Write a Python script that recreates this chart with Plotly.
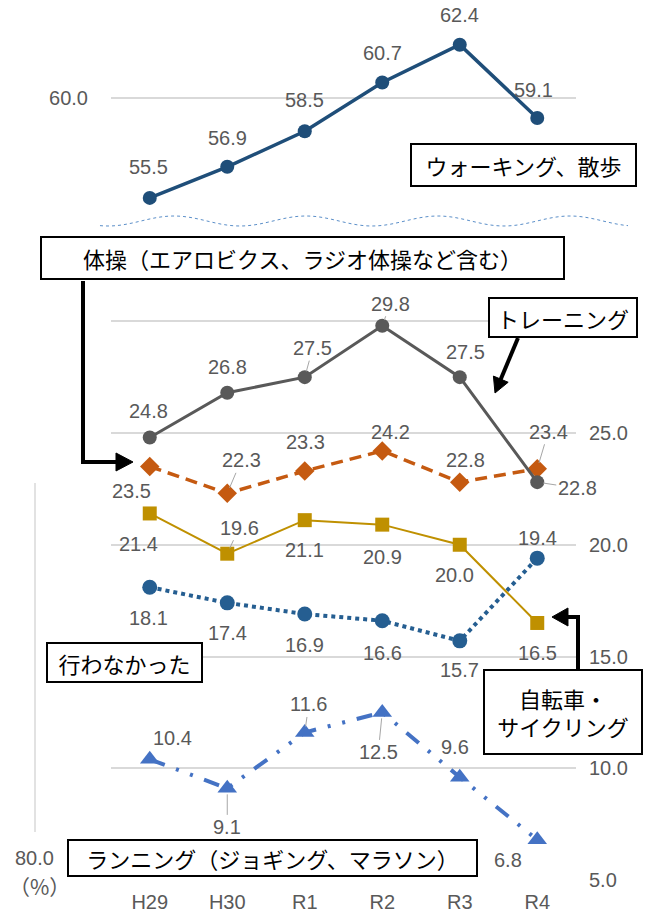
import numpy as np
import plotly.graph_objects as go

# ---------------- data ----------------
years = ["H29", "H30", "R1", "R2", "R3", "R4"]
walking = [55.5, 56.9, 58.5, 60.7, 62.4, 59.1]
training = [24.8, 26.8, 27.5, 29.8, 27.5, 22.8]
taiso = [23.5, 22.3, 23.3, 24.2, 22.8, 23.4]
bicycle = [21.4, 19.6, 21.1, 20.9, 20.0, 16.5]
none_done = [18.1, 17.4, 16.9, 16.6, 15.7, 19.4]
running = [10.4, 9.1, 11.6, 12.5, 9.6, 6.8]

lower_ticks = [5, 10, 15, 20, 25, 30]
lower_ticktext = ["5.0", "10.0", "15.0", "20.0", "25.0", ""]
upper_ticks = [55, 60]
upper_ticktext = ["", "60.0"]

W, H = 648, 915


def px(x):
    return x / W


def py(y):
    return 1 - y / H


LBL = dict(family="Liberation Sans, Arial, sans-serif", size=20, color="#595959")
JP = dict(family="Noto Sans CJK JP", size=22, color="#000000")
GRID = "#d9d9d9"

fig = go.Figure()

# ---- walking (top panel)
fig.add_trace(go.Scatter(x=years, y=walking, xaxis="x2", yaxis="y2", mode="lines+markers",
                         line=dict(color="#1f4e79", width=3.5),
                         marker=dict(symbol="circle", size=14, color="#1f4e79")))
# ---- lower panel
fig.add_trace(go.Scatter(x=years, y=running, mode="lines+markers",
                         line=dict(color="#4472c4", width=4, dash="16px,12px,3px,12px,3px,12px"),
                         marker=dict(symbol="triangle-up", size=17, color="#4472c4")))
fig.add_trace(go.Scatter(x=years, y=none_done, mode="lines+markers",
                         line=dict(color="#255e91", width=4, dash="dot"),
                         marker=dict(symbol="circle", size=15, color="#255e91")))
fig.add_trace(go.Scatter(x=years, y=bicycle, mode="lines+markers",
                         line=dict(color="#bf9000", width=2),
                         marker=dict(symbol="square", size=14, color="#bf9000")))
fig.add_trace(go.Scatter(x=years, y=taiso, mode="lines+markers",
                         line=dict(color="#c55a11", width=3.5, dash="12px,7px"),
                         marker=dict(symbol="diamond", size=15, color="#c55a11")))
fig.add_trace(go.Scatter(x=years, y=training, mode="lines+markers",
                         line=dict(color="#595959", width=3),
                         marker=dict(symbol="circle", size=14, color="#595959")))

# ---- data labels: (dx, dy(up+), leader?)
label_offsets = {
    "walking": [(-1, 31, 0), (0, 29, 0), (0, 31, 0), (0, 29, 0), (0, 30, 0), (-4, 28, 0)],
    "training": [(-1, 26, 0), (0, 26, 0), (8, 29, 1), (8, 22, 1), (6, 25, 0), (40, -6, 1)],
    "taiso": [(-18, -24, 0), (14, 33, 1), (1, 29, 0), (8, 19, 0), (6, 22, 0), (11, 37, 1)],
    "bicycle": [(-11, -31, 0), (12, 26, 1), (0, -30, 0), (0, -32, 0), (-5, -30, 0), (0, -30, 0)],
    "none": [(-1, -31, 0), (0, -30, 0), (0, -31, 0), (0, -32, 0), (0, -29, 0), (0, 20, 0)],
    "running": [(23, 21, 0), (0, -39, 1), (4, 28, 1), (-4, -40, 1), (-5, 30, 0), (-29, -20, 0)],
}
series_map = [("walking", walking, "x2", "y2"), ("training", training, "x", "y"),
              ("taiso", taiso, "x", "y"), ("bicycle", bicycle, "x", "y"),
              ("none", none_done, "x", "y"), ("running", running, "x", "y")]

annotations = []
for key, vals, xr, yr in series_map:
    for i, v in enumerate(vals):
        dx, dy, leader = label_offsets[key][i]
        if leader:
            annotations.append(dict(x=years[i], y=v, xref=xr, yref=yr, text=f"{v:.1f}",
                                    showarrow=True, arrowhead=0, arrowwidth=1, arrowcolor="#a6a6a6",
                                    ax=dx, ay=-dy, standoff=6, font=LBL))
        else:
            annotations.append(dict(x=years[i], y=v, xref=xr, yref=yr, text=f"{v:.1f}",
                                    showarrow=False, xshift=dx, yshift=dy, font=LBL,
                                    xanchor="center", yanchor="middle"))

# ---- boxed series names
boxes = [
    ("ウォーキング、散歩", 410, 143, 227, 44),
    ("体操（エアロビクス、ラジオ体操など含む）", 40, 236, 525, 44),
    ("トレーニング", 488, 297, 150, 41),
    ("行わなかった", 46, 642, 157, 41),
    ("自転車・<br>サイクリング", 483, 669, 160, 86),
    ("ランニング（ジョギング、マラソン）", 67, 839, 411, 38),
]
for txt, x0, y0, w, h in boxes:
    annotations.append(dict(x=px(x0), y=py(y0), xref="paper", yref="paper", xanchor="left",
                            yanchor="top", text=txt, showarrow=False, font=JP, align="center",
                            width=w - 8, height=h - 8, borderpad=2, bordercolor="#000000",
                            borderwidth=2, bgcolor="#ffffff", valign="middle"))

annotations.append(dict(x=px(34), y=py(858), xref="paper", yref="paper", text="80.0",
                        showarrow=False, font=LBL, xanchor="center", yanchor="middle"))
annotations.append(dict(x=px(39), y=py(886), xref="paper", yref="paper", text="（%）",
                        showarrow=False, xanchor="center", yanchor="middle",
                        font=dict(family="Noto Sans CJK JP", size=21, color="#595959")))

# ---- decorative shapes
shapes = []
shapes.append(dict(type="line", xref="paper", yref="paper", x0=px(35), x1=px(35), y0=py(483), y1=py(832),
                   line=dict(color=GRID, width=1.5)))
wx = np.arange(100, 632, 4)
wy = 221 - 5 * np.cos(2 * np.pi * (wx - 174) / 132)
wpath = "M " + " L ".join(f"{px(a):.5f},{py(b):.5f}" for a, b in zip(wx, wy))
shapes.append(dict(type="path", xref="paper", yref="paper", path=wpath,
                   line=dict(color="#5b8fc9", width=1, dash="dot")))


def pth(pts, close=False):
    s = "M " + " L ".join(f"{px(a):.5f},{py(b):.5f}" for a, b in pts)
    return s + (" Z" if close else "")


# taiso arrow
shapes.append(dict(type="path", xref="paper", yref="paper", path=pth([(83, 281), (83, 462), (118, 462)]),
                   line=dict(color="black", width=4)))
shapes.append(dict(type="path", xref="paper", yref="paper", path=pth([(116, 453), (133, 462), (116, 471)], True),
                   fillcolor="black", line=dict(color="black", width=1)))
# training arrow
T = np.array([495.0, 393.0])
S = np.array([518.0, 338.0])
d = (T - S) / np.linalg.norm(T - S)
n = np.array([-d[1], d[0]])
B = T - 15 * d
shapes.append(dict(type="path", xref="paper", yref="paper", path=pth([tuple(S), tuple(B + 2 * d)]),
                   line=dict(color="black", width=4)))
shapes.append(dict(type="path", xref="paper", yref="paper",
                   path=pth([tuple(T), tuple(B + 8 * n), tuple(B - 8 * n)], True),
                   fillcolor="black", line=dict(color="black", width=1)))
# bicycle arrow
shapes.append(dict(type="path", xref="paper", yref="paper", path=pth([(578, 669), (578, 617), (566, 617)]),
                   line=dict(color="black", width=4)))
shapes.append(dict(type="path", xref="paper", yref="paper", path=pth([(568, 608), (552, 617), (568, 626)], True),
                   fillcolor="black", line=dict(color="black", width=1)))

xdom = [px(111), px(576)]
fig.update_layout(
    width=W, height=H, margin=dict(l=0, r=0, t=0, b=0, autoexpand=False),
    paper_bgcolor="white", plot_bgcolor="white", showlegend=False,
    xaxis=dict(domain=xdom, anchor="y", type="category", range=[-0.5, 5.5], showgrid=False,
               showline=False, zeroline=False, ticks="", tickfont=LBL, ticklabelstandoff=8,
               automargin=False),
    yaxis=dict(domain=[py(880), py(300)], range=[5, 5 + 580 / 22.35], side="right",
               tickvals=lower_ticks, ticktext=lower_ticktext, gridcolor=GRID, gridwidth=1.5,
               zeroline=False, showline=False, ticks="", tickfont=LBL, ticklabelstandoff=12,
               automargin=False),
    xaxis2=dict(domain=xdom, anchor="y2", type="category", range=[-0.5, 5.5], showgrid=False,
                showline=False, zeroline=False, showticklabels=False, ticks="", automargin=False),
    yaxis2=dict(domain=[py(209), 1], range=[55, 55 + 209 / 22.2], side="left", anchor="x2",
                tickvals=upper_ticks, ticktext=upper_ticktext, gridcolor=GRID, gridwidth=1.5,
                zeroline=False, showline=False, ticks="", tickfont=LBL, ticklabelstandoff=22,
                automargin=False),
    annotations=annotations, shapes=shapes,
)

post = ("var de=document.documentElement,b=document.body;"
        "de.style.margin='0';b.style.margin='0';b.style.padding='0';"
        "de.style.overflow='hidden';b.style.overflow='hidden';")
fig.write_html("out.html", config={"displayModeBar": False}, post_script=post)
